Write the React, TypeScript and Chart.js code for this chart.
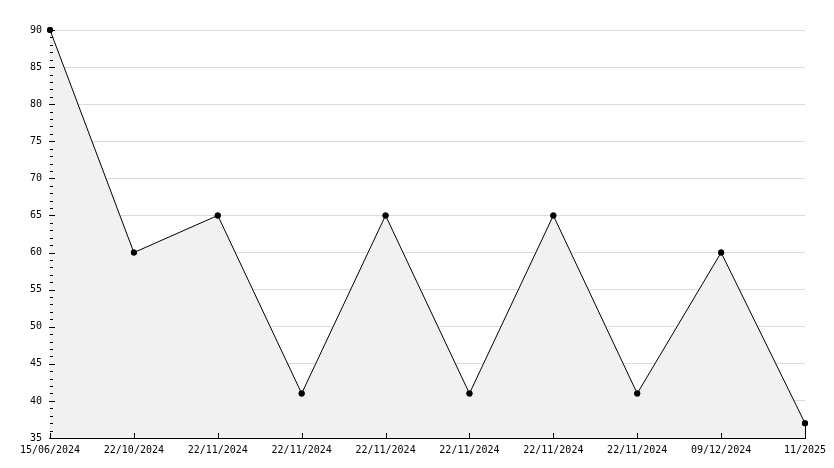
import React, { useEffect, useRef } from "react";
import { Chart, registerables } from "chart.js";

Chart.register(...registerables);

const categories = [
  "15/06/2024",
  "22/10/2024",
  "22/11/2024",
  "22/11/2024",
  "22/11/2024",
  "22/11/2024",
  "22/11/2024",
  "22/11/2024",
  "09/12/2024",
  "11/2025",
];
const values = [90, 60, 65, 41, 65, 41, 65, 41, 60, 37];
const yMin = 35;
const yMax = 90;
const yStep = 5;
const yMinorStep = 1;

const FONT = { family: "'DejaVu Sans Mono', monospace", size: 10 };

const tickPlugin = {
  id: "inwardTicks",
  afterDraw(chart: any) {
    const ctx = chart.ctx;
    const x = chart.scales.x;
    const y = chart.scales.y;
    const area = chart.chartArea;
    ctx.save();
    ctx.strokeStyle = "#000";
    ctx.lineWidth = 1;
    ctx.beginPath();
    for (let v = yMin; v <= yMax; v += yMinorStep) {
      const py = Math.round(y.getPixelForValue(v)) + 0.5;
      const major = (v - yMin) % yStep === 0;
      ctx.moveTo(area.left - (major ? 1 : 0), py);
      ctx.lineTo(area.left + (major ? 5 : 3), py);
    }
    for (let i = 0; i < categories.length; i++) {
      const px = Math.round(x.getPixelForValue(i)) + 0.5;
      ctx.moveTo(px, area.bottom);
      ctx.lineTo(px, area.bottom - 5);
    }
    const lastIdx = values.length - 1;
    const lx = Math.round(x.getPixelForValue(lastIdx)) + 0.5;
    ctx.moveTo(lx, y.getPixelForValue(values[lastIdx]));
    ctx.lineTo(lx, area.bottom);
    ctx.stroke();
    // redraw points on top so they are not clipped
    const meta = chart.getDatasetMeta(0);
    ctx.fillStyle = "#000";
    meta.data.forEach((pt: any) => {
      ctx.beginPath();
      ctx.arc(pt.x, pt.y, 3, 0, Math.PI * 2);
      ctx.fill();
    });
    ctx.restore();
  },
};

export default function App() {
  const ref = useRef<HTMLCanvasElement | null>(null);
  useEffect(() => {
    if (!ref.current) return;
    const chart = new Chart(ref.current, {
      type: "line",
      data: {
        labels: categories,
        datasets: [
          {
            data: values,
            borderColor: "#000",
            borderWidth: 1,
            backgroundColor: "#f1f1f1",
            fill: "origin",
            tension: 0,
            clip: false,
            pointRadius: 3,
            pointBackgroundColor: "#000",
            pointBorderColor: "#000",
            pointBorderWidth: 0,
          },
        ],
      },
      options: {
        animation: false,
        responsive: true,
        maintainAspectRatio: false,
        layout: { padding: { left: 0, top: 30, right: 29, bottom: 0 } },
        plugins: { legend: { display: false }, tooltip: { enabled: false } },
        scales: {
          x: {
            type: "category",
            offset: false,
            grid: { display: false, drawTicks: false },
            border: { display: true, color: "#000", width: 1 },
            ticks: {
              color: "#000",
              font: FONT,
              padding: 6,
              maxRotation: 0,
              autoSkip: false,
            },
            afterFit(scale: any) {
              scale.height = 30;
            },
          },
          y: {
            min: yMin,
            max: yMax,
            grid: { color: "#dcdcdc", drawTicks: false },
            border: { display: true, color: "#000", width: 1 },
            ticks: {
              stepSize: yStep,
              color: "#000",
              font: FONT,
              padding: 8,
            },
            afterFit(scale: any) {
              scale.width = 50;
            },
          },
        },
      },
      plugins: [tickPlugin],
    });
    return () => chart.destroy();
  }, []);
  return (
    <div style={{ position: "fixed", left: 0, top: 0, width: 834, height: 468, background: "#fff" }}>
      <canvas ref={ref} />
    </div>
  );
}
